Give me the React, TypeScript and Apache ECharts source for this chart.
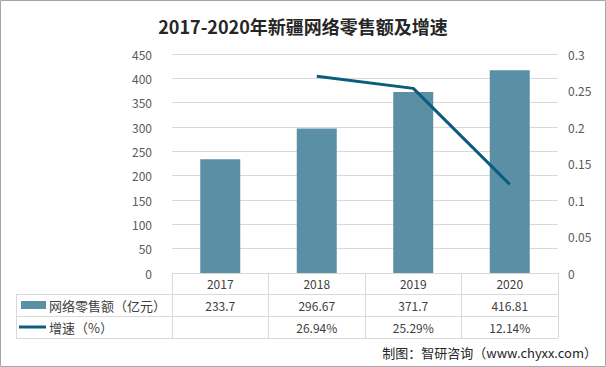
import React, { useEffect, useRef } from "react";
import * as echarts from "echarts";

const categories = ["2017", "2018", "2019", "2020"];
const salesValues = [233.7, 296.67, 371.7, 416.81];
const growthValues: (number | null)[] = [null, 0.2694, 0.2529, 0.1214];
const salesLabels = ["233.7", "296.67", "371.7", "416.81"];
const growthLabels = ["", "26.94%", "25.29%", "12.14%"];
const salesName = "网络零售额（亿元）";
const growthName = "增速（%）";
const titleText = "2017-2020年新疆网络零售额及增速";
const sourceText = "制图：智研咨询（www.chyxx.com）";

const BAR = "#5b8fa6";
const LINE = "#0b5d7c";
const GRIDC = "#d9d9d9";
const TXT = "#404040";
const FONT = "'Noto Sans CJK SC', 'Noto Sans', sans-serif";

export default function App() {
  const ref = useRef<HTMLDivElement>(null);
  useEffect(() => {
    document.body.style.margin = "0";
    const chart = echarts.init(ref.current!, null, { renderer: "svg" });
    const tableAxis = (data: string[], offset: number) => ({
      type: "category",
      data,
      gridIndex: 0,
      position: "bottom",
      offset,
      axisLine: { show: false },
      axisTick: { show: false },
      axisLabel: { color: TXT, fontSize: 12, margin: 4, fontFamily: FONT },
    });
    chart.setOption({
      animation: false,
      backgroundColor: "#ffffff",
      textStyle: { fontFamily: FONT },
      title: {
        text: titleText,
        left: "center",
        top: 12,
        textStyle: { fontSize: 18, fontWeight: "bold", color: "#262626", fontFamily: FONT },
      },
      grid: { left: 172, right: 48, top: 54, bottom: 94 },
      xAxis: [
        {
          type: "category",
          data: categories,
          axisLine: { show: true, lineStyle: { color: GRIDC } },
          axisTick: { show: true, length: 65, lineStyle: { color: GRIDC } },
          axisLabel: { color: TXT, fontSize: 12, margin: 4, fontFamily: FONT },
        },
        tableAxis(salesLabels, 22),
        tableAxis(growthLabels, 44),
      ],
      yAxis: [
        {
          type: "value",
          min: 0,
          max: 450,
          interval: 50,
          axisLine: { show: false },
          axisTick: { show: false },
          splitLine: { lineStyle: { color: GRIDC } },
          axisLabel: { color: "#595959", fontSize: 12, margin: 20, fontFamily: FONT },
        },
        {
          type: "value",
          min: 0,
          max: 0.3,
          interval: 0.05,
          axisLine: { show: false },
          axisTick: { show: false },
          splitLine: { show: false },
          axisLabel: { color: "#595959", fontSize: 12, margin: 10, fontFamily: FONT },
        },
      ],
      series: [
        {
          name: salesName,
          type: "bar",
          data: salesValues,
          barWidth: 40,
          itemStyle: { color: BAR },
          xAxisIndex: 0,
          yAxisIndex: 0,
        },
        {
          name: growthName,
          type: "line",
          data: growthValues,
          xAxisIndex: 0,
          yAxisIndex: 1,
          symbol: "none",
          lineStyle: { color: LINE, width: 3 },
          itemStyle: { color: LINE },
        },
      ],
      graphic: [
        { type: "rect", shape: { x: 0.5, y: 0.5, width: 605, height: 366 }, style: { fill: "none", stroke: "#a6a6a6", lineWidth: 1 } },
        { type: "line", shape: { x1: 16, y1: 294.5, x2: 558, y2: 294.5 }, style: { stroke: GRIDC, lineWidth: 1 } },
        { type: "line", shape: { x1: 16, y1: 316.5, x2: 558, y2: 316.5 }, style: { stroke: GRIDC, lineWidth: 1 } },
        { type: "line", shape: { x1: 16, y1: 338.5, x2: 558, y2: 338.5 }, style: { stroke: GRIDC, lineWidth: 1 } },
        { type: "line", shape: { x1: 16.5, y1: 294, x2: 16.5, y2: 338 }, style: { stroke: GRIDC, lineWidth: 1 } },
        { type: "rect", shape: { x: 21, y: 301, width: 25, height: 8 }, style: { fill: BAR } },
        { type: "text", x: 49, y: 305, style: { text: salesName, fill: TXT, fontSize: 13, fontFamily: FONT, verticalAlign: "middle" } },
        { type: "line", shape: { x1: 19, y1: 327, x2: 46, y2: 327 }, style: { stroke: LINE, lineWidth: 3 } },
        { type: "text", x: 49, y: 327, style: { text: growthName, fill: TXT, fontSize: 13, fontFamily: FONT, verticalAlign: "middle" } },
        { type: "text", right: 9, top: 346, style: { text: sourceText, fill: "#262626", fontSize: 13, fontFamily: FONT } },
      ],
    });
    return () => chart.dispose();
  }, []);
  return <div ref={ref} style={{ width: 606, height: 367 }} />;
}
